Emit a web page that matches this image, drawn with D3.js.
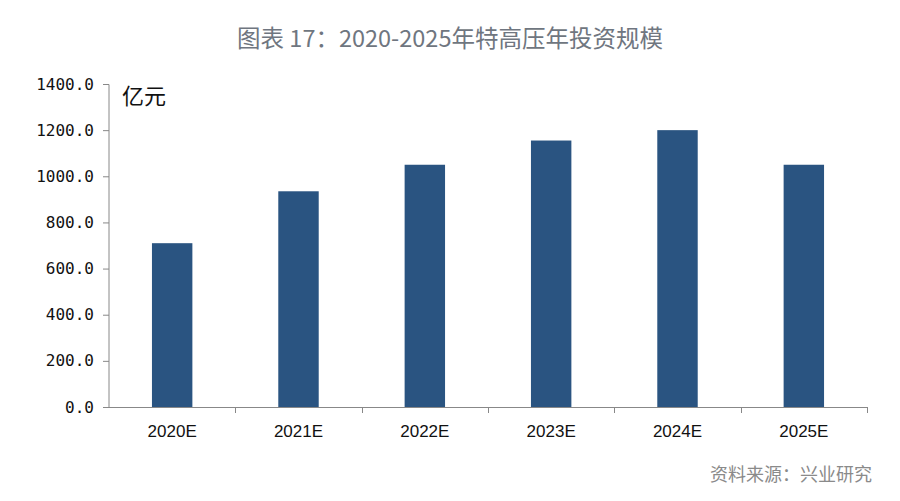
<!DOCTYPE html>
<html><head><meta charset="utf-8">
<script src="https://cdn.jsdelivr.net/npm/d3@7"></script>
<style>body{margin:0;background:#fff}svg{display:block}</style>
</head><body>
<script>
const categories = ["2020E","2021E","2022E","2023E","2024E","2025E"];
const values = [710, 935, 1050, 1155, 1200, 1050];
const yTicks = [0,200,400,600,800,1000,1200,1400];
const titleText = "图表 17：2020-2025年特高压年投资规模";
const unitText = "亿元";
const sourceText = "资料来源：兴业研究";

const W = 900, H = 501;
const svg = d3.select("body").append("svg").attr("width", W).attr("height", H);
const x = d3.scaleBand().domain(categories).range([109, 867]).paddingInner(0.68).paddingOuter(0.34);
const y = d3.scaleLinear().domain([0, 1400]).range([407, 84]);

svg.append("text").attr("x", 450).attr("y", 47).attr("text-anchor", "middle")
  .attr("font-family", "Noto Sans CJK SC").attr("font-weight", 400).attr("font-size", 23.5)
  .attr("fill", "#6f7680").text(titleText);

svg.selectAll("rect.bar").data(values).join("rect").attr("class","bar")
  .attr("x", (d,i) => x(categories[i])).attr("width", x.bandwidth())
  .attr("y", d => y(d)).attr("height", d => y(0) - y(d)).attr("fill", "#2a5481");

// y axis
const ya = svg.append("g").attr("transform", "translate(109,0)")
  .call(d3.axisLeft(y).tickValues(yTicks).tickFormat(d3.format(".1f")).tickSize(6).tickPadding(9));
ya.select(".domain").attr("stroke", "#888").attr("d", "M-6,84.5H0V407.5");
ya.selectAll(".tick line").attr("stroke", "#888");
ya.selectAll(".tick text").attr("font-family", "DejaVu Sans Mono").attr("font-size", 16).attr("fill", "#111");

// x axis
const xa = svg.append("g").attr("transform", "translate(0,407)");
xa.append("line").attr("x1", 103).attr("x2", 867).attr("y1", 0.5).attr("y2", 0.5).attr("stroke", "#888");
const bounds = categories.map((c,i) => x(c) - x.step()*x.paddingOuter()).concat([867]);
xa.selectAll("line.tk").data(bounds.slice(1)).join("line").attr("class","tk")
  .attr("x1", d => Math.round(d)+0.5).attr("x2", d => Math.round(d)+0.5).attr("y1", 0).attr("y2", 6).attr("stroke", "#888");
xa.selectAll("text").data(categories).join("text")
  .attr("x", d => x(d) + x.bandwidth()/2).attr("y", 30).attr("text-anchor", "middle")
  .attr("font-family", "Liberation Sans").attr("font-size", 17).attr("fill", "#111").text(d => d);

svg.append("text").attr("x", 122).attr("y", 104).attr("font-family", "Noto Sans CJK SC")
  .attr("font-size", 22).attr("fill", "#111").text(unitText);

svg.append("text").attr("x", 872).attr("y", 481).attr("text-anchor", "end")
  .attr("font-family", "Noto Sans CJK SC").attr("font-size", 18).attr("fill", "#8a8a8a").text(sourceText);
</script>
</body></html>
